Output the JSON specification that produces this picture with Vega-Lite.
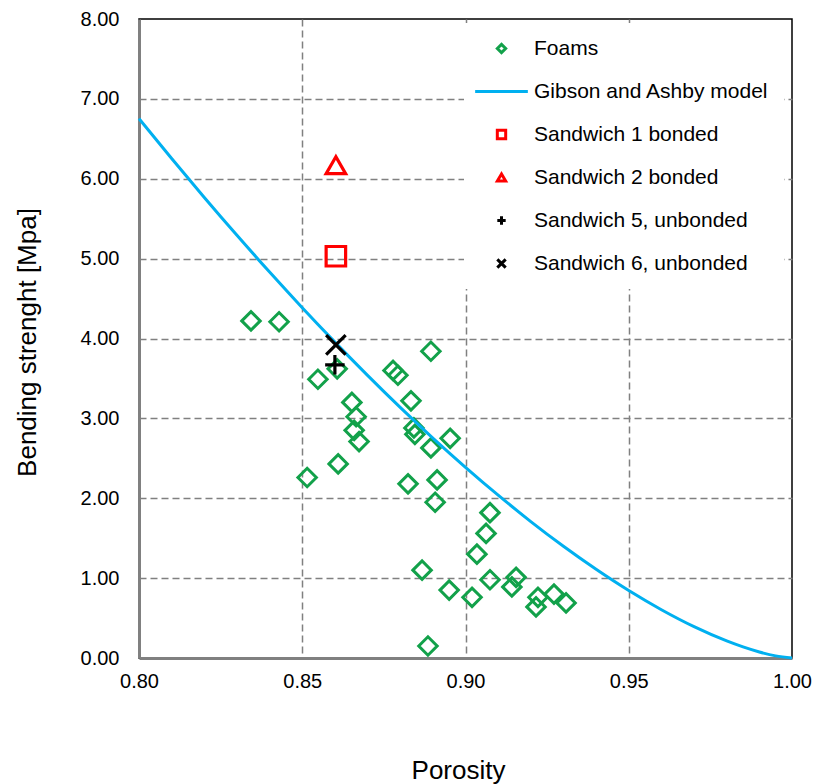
{
  "$schema": "https://vega.github.io/schema/vega-lite/v6.json",
  "autosize": {"type": "none"},
  "padding": {"left": 139, "top": 19, "right": 25, "bottom": 126},
  "width": 653,
  "height": 639,
  "background": "white",
  "config": {
    "font": "Liberation Sans",
    "view": {"stroke": "black", "strokeWidth": 1.5},
    "axis": {
      "labelFont": "Liberation Sans",
      "labelFontSize": 20,
      "labelColor": "black",
      "labelFlush": false,
      "titleFont": "Liberation Sans",
      "titleFontSize": 26,
      "titleFontWeight": "normal",
      "titleColor": "black",
      "grid": true,
      "gridColor": "#808080",
      "gridDash": [7, 4],
      "gridWidth": 1.5,
      "domainColor": "#808080",
      "domainWidth": 3,
      "ticks": false
    },
    "legend": {
      "labelFont": "Liberation Sans",
      "labelFontSize": 21,
      "labelColor": "black",
      "labelLimit": 0
    }
  },
  "datasets": {
    "model": [
      {"porosity": 0.80, "strength": 6.753, "series": "Gibson and Ashby model"},
      {"porosity": 0.81, "strength": 6.253, "series": "Gibson and Ashby model"},
      {"porosity": 0.82, "strength": 5.766, "series": "Gibson and Ashby model"},
      {"porosity": 0.83, "strength": 5.292, "series": "Gibson and Ashby model"},
      {"porosity": 0.84, "strength": 4.832, "series": "Gibson and Ashby model"},
      {"porosity": 0.85, "strength": 4.386, "series": "Gibson and Ashby model"},
      {"porosity": 0.86, "strength": 3.955, "series": "Gibson and Ashby model"},
      {"porosity": 0.87, "strength": 3.539, "series": "Gibson and Ashby model"},
      {"porosity": 0.88, "strength": 3.138, "series": "Gibson and Ashby model"},
      {"porosity": 0.89, "strength": 2.754, "series": "Gibson and Ashby model"},
      {"porosity": 0.90, "strength": 2.388, "series": "Gibson and Ashby model"},
      {"porosity": 0.91, "strength": 2.039, "series": "Gibson and Ashby model"},
      {"porosity": 0.92, "strength": 1.708, "series": "Gibson and Ashby model"},
      {"porosity": 0.93, "strength": 1.398, "series": "Gibson and Ashby model"},
      {"porosity": 0.94, "strength": 1.110, "series": "Gibson and Ashby model"},
      {"porosity": 0.95, "strength": 0.844, "series": "Gibson and Ashby model"},
      {"porosity": 0.96, "strength": 0.604, "series": "Gibson and Ashby model"},
      {"porosity": 0.97, "strength": 0.392, "series": "Gibson and Ashby model"},
      {"porosity": 0.98, "strength": 0.2135, "series": "Gibson and Ashby model"},
      {"porosity": 0.985, "strength": 0.1387, "series": "Gibson and Ashby model"},
      {"porosity": 0.99, "strength": 0.0755, "series": "Gibson and Ashby model"},
      {"porosity": 0.995, "strength": 0.0267, "series": "Gibson and Ashby model"},
      {"porosity": 1.00, "strength": 0.0, "series": "Gibson and Ashby model"}
    ],
    "foams": [
      {"porosity": 0.8343, "strength": 4.22, "series": "Foams"},
      {"porosity": 0.8429, "strength": 4.21, "series": "Foams"},
      {"porosity": 0.8548, "strength": 3.49, "series": "Foams"},
      {"porosity": 0.8607, "strength": 3.62, "series": "Foams"},
      {"porosity": 0.8515, "strength": 2.26, "series": "Foams"},
      {"porosity": 0.8610, "strength": 2.43, "series": "Foams"},
      {"porosity": 0.8652, "strength": 3.20, "series": "Foams"},
      {"porosity": 0.8665, "strength": 3.02, "series": "Foams"},
      {"porosity": 0.8659, "strength": 2.85, "series": "Foams"},
      {"porosity": 0.8674, "strength": 2.71, "series": "Foams"},
      {"porosity": 0.8778, "strength": 3.60, "series": "Foams"},
      {"porosity": 0.8793, "strength": 3.54, "series": "Foams"},
      {"porosity": 0.8894, "strength": 3.84, "series": "Foams"},
      {"porosity": 0.8833, "strength": 3.22, "series": "Foams"},
      {"porosity": 0.8842, "strength": 2.88, "series": "Foams"},
      {"porosity": 0.8845, "strength": 2.80, "series": "Foams"},
      {"porosity": 0.8894, "strength": 2.63, "series": "Foams"},
      {"porosity": 0.8953, "strength": 2.75, "series": "Foams"},
      {"porosity": 0.8824, "strength": 2.18, "series": "Foams"},
      {"porosity": 0.8913, "strength": 2.23, "series": "Foams"},
      {"porosity": 0.8907, "strength": 1.95, "series": "Foams"},
      {"porosity": 0.9075, "strength": 1.82, "series": "Foams"},
      {"porosity": 0.9063, "strength": 1.56, "series": "Foams"},
      {"porosity": 0.9035, "strength": 1.30, "series": "Foams"},
      {"porosity": 0.8867, "strength": 1.10, "series": "Foams"},
      {"porosity": 0.8950, "strength": 0.85, "series": "Foams"},
      {"porosity": 0.9020, "strength": 0.76, "series": "Foams"},
      {"porosity": 0.9075, "strength": 0.98, "series": "Foams"},
      {"porosity": 0.9142, "strength": 0.89, "series": "Foams"},
      {"porosity": 0.9155, "strength": 1.01, "series": "Foams"},
      {"porosity": 0.9222, "strength": 0.76, "series": "Foams"},
      {"porosity": 0.9216, "strength": 0.64, "series": "Foams"},
      {"porosity": 0.9271, "strength": 0.80, "series": "Foams"},
      {"porosity": 0.9308, "strength": 0.69, "series": "Foams"},
      {"porosity": 0.8885, "strength": 0.15, "series": "Foams"}
    ],
    "sandwich": [
      {"porosity": 0.8603, "strength": 5.03, "series": "Sandwich 1 bonded"},
      {"porosity": 0.8603, "strength": 6.17, "series": "Sandwich 2  bonded"},
      {"porosity": 0.8600, "strength": 3.67, "series": "Sandwich 5, unbonded"},
      {"porosity": 0.8603, "strength": 3.92, "series": "Sandwich 6, unbonded"}
    ]
  },
  "encoding": {
    "x": {
      "field": "porosity", "type": "quantitative",
      "scale": {"domain": [0.8, 1.0], "nice": false, "zero": false},
      "axis": {"values": [0.8, 0.85, 0.9, 0.95, 1.0], "format": ".2f", "labelPadding": 13,
               "gridOpacity": {"condition": {"test": "datum.value <= 0.8001 || datum.value >= 0.9999", "value": 0}, "value": 1},
               "title": "Porosity", "titleX": 319, "titleY": 99, "titleBaseline": "top"}
    },
    "y": {
      "field": "strength", "type": "quantitative",
      "scale": {"domain": [0, 8], "nice": false},
      "axis": {"values": [0, 1, 2, 3, 4, 5, 6, 7, 8], "format": ".2f", "labelPadding": 20,
               "gridOpacity": {"condition": {"test": "datum.value == 0 || datum.value == 8", "value": 0}, "value": 1},
               "title": "Bending  strenght [Mpa]", "titleX": -112, "titleY": 323, "titleBaseline": "middle"}
    },
    "color": {
      "field": "series", "type": "nominal",
      "scale": {
        "domain": ["Foams", "Gibson and Ashby model", "Sandwich 1 bonded", "Sandwich 2  bonded", "Sandwich 5, unbonded", "Sandwich 6, unbonded"],
        "range": ["#12A14A", "#00B0F0", "#FF0000", "#FF0000", "#000000", "#000000"]
      },
      "legend": {
        "title": null, "orient": "none", "legendX": 325, "legendY": 4,
        "padding": 15, "fillColor": "white", "symbolOffset": 12,
        "symbolSize": 70, "symbolStrokeWidth": 3, "rowPadding": 21, "labelOffset": 22,
        "symbolFillColor": "transparent"
      }
    },
    "shape": {
      "field": "series", "type": "nominal",
      "scale": {
        "domain": ["Foams", "Gibson and Ashby model", "Sandwich 1 bonded", "Sandwich 2  bonded", "Sandwich 5, unbonded", "Sandwich 6, unbonded"],
        "range": ["diamond", "M-6.3,0L6.3,0", "square", "triangle-up", "M-1,0L1,0M0,-1L0,1", "M-1,-1L1,1M-1,1L1,-1"]
      },
      "legend": {
        "title": null, "orient": "none", "legendX": 325, "legendY": 4,
        "padding": 15, "fillColor": "white", "symbolOffset": 12,
        "symbolSize": 70, "symbolStrokeWidth": 3, "rowPadding": 21, "labelOffset": 22,
        "symbolFillColor": "transparent"
      }
    }
  },
  "layer": [
    {
      "data": {"name": "foams"},
      "mark": {"type": "point", "filled": false, "size": 340, "strokeWidth": 3, "opacity": 1}
    },
    {
      "data": {"name": "model"},
      "mark": {"type": "line", "strokeWidth": 3, "interpolate": "monotone"},
      "encoding": {"shape": null}
    },
    {
      "data": {"name": "sandwich"},
      "mark": {"type": "point", "filled": false, "size": 380, "strokeWidth": 3.2, "opacity": 1}
    }
  ]
}
